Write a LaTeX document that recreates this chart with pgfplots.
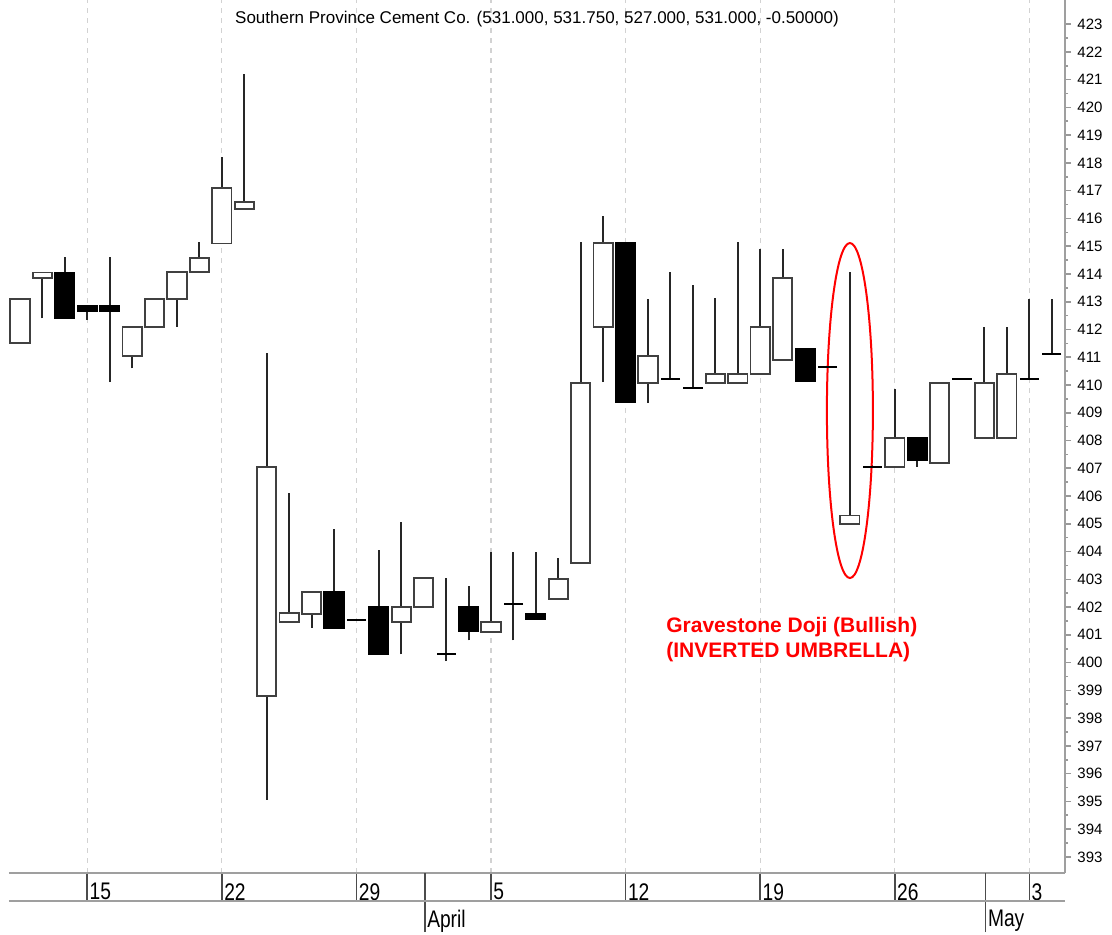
\documentclass[border=0pt]{standalone}
\usepackage{fontspec}
\setmainfont{Liberation Sans}
\newfontfamily\condfont[FakeStretch=0.8]{Liberation Sans}
\usepackage{pgfplots}
\usepackage{pgfplotstable}
\pgfplotsset{compat=1.18}

\pgfplotstableread{
i o h l c
1 411.5 413.1 411.5 413.1
2 413.85 414.05 412.4 414.05
3 414.05 414.6 412.4 412.4
4 412.85 412.85 412.35 412.65
5 412.85 414.6 410.1 412.65
6 411.05 412.1 410.6 412.1
7 412.1 413.1 412.1 413.1
8 413.1 414.07 412.1 414.07
9 414.07 415.15 414.07 414.58
10 415.1 418.2 415.1 417.1
11 416.35 421.2 416.35 416.6
12 398.8 411.15 395.05 407.05
13 401.45 406.1 401.45 401.8
14 401.75 402.55 401.25 402.55
15 402.55 404.8 401.25 401.25
16 401.55 401.55 401.55 401.55
17 402.0 404.05 400.3 400.3
18 401.45 405.07 400.3 402.0
19 402.0 403.05 402.0 403.05
20 400.3 403.05 400.05 400.3
21 402.0 402.75 400.8 401.15
22 401.1 404.0 401.1 401.45
23 402.1 404.0 400.8 402.1
24 401.75 404.0 401.55 401.55
25 402.3 403.77 402.3 403.0
26 403.6 415.15 403.6 410.07
27 412.1 416.1 410.1 415.12
28 415.12 415.12 409.4 409.4
29 410.07 413.1 409.35 411.05
30 410.2 414.07 410.2 410.2
31 409.9 413.6 409.9 409.9
32 410.07 413.15 410.07 410.4
33 410.07 415.15 410.07 410.4
34 410.4 414.9 410.4 412.1
35 410.9 414.9 410.9 413.85
36 411.3 411.3 410.15 410.15
37 410.65 410.65 410.65 410.65
38 405.0 414.07 405.0 405.3
39 407.05 407.1 407.05 407.05
40 407.05 409.85 407.05 408.1
41 408.1 408.1 407.05 407.3
42 407.2 410.07 407.2 410.07
43 410.2 410.2 410.2 410.2
44 408.1 412.1 408.1 410.07
45 408.1 412.1 408.1 410.4
46 410.2 413.1 410.2 410.2
47 411.1 413.1 411.1 411.1
}\ohlc

\begin{document}
\begin{tikzpicture}
\useasboundingbox (0,0) rectangle (556pt,467.5pt);
\begin{axis}[
  at={(4.5pt,31pt)}, anchor=south west,
  width=528pt, height=436.5pt, scale only axis,
  xmin=0.51, xmax=47.59, ymin=392.42, ymax=423.87,
  clip=false,
  axis x line*=bottom, axis y line*=right,
  axis line style={gray!75, line width=1pt},
  tick align=outside,
  major tick length=14pt,
  ytick=\empty,
  xtick={4,10,16,22,28,34,40,46},
  xticklabels={15,22,29,5,12,19,26,3},
  x tick style={black!70, line width=0.8pt},
  xticklabel style={anchor=north west, inner sep=0pt, xshift=1pt, yshift=9pt,
    font=\condfont\fontsize{12}{12}\selectfont},
  extra x ticks={19.05,44.05},
  extra x tick labels={April,May},
  extra x tick style={grid=none, major tick length=29.5pt,
    tick style={black!80, line width=0.8pt},
    xticklabel style={yshift=2pt}},
  xmajorgrids,
  major grid style={gray!35, dash pattern=on 2.5pt off 2.5pt, line width=0.6pt},
]
\addplot[draw=none, mark=none,
  error bars/.cd, y dir=plus, y explicit, error mark=none,
  error bar style={draw=black!85, solid, line width=1pt}]
  table[x=i, y=l, y error expr={\thisrow{h}-\thisrow{l}}] {\ohlc};
\draw[gray!75, line width=1pt] ([yshift=-14pt]rel axis cs:0,0) -- ([yshift=-14pt]rel axis cs:1,0);
\node[anchor=base, inner sep=0pt, font=\fontsize{8.5}{9}\selectfont]
  at ([yshift=-12pt]rel axis cs:0.5,1)
  {Southern Province Cement Co. (531.000, 531.750, 527.000, 531.000, -0.50000)};
\draw[red, line width=1pt] (axis cs:38,409.08) ellipse [x radius=11.5pt, y radius=83.75pt];
\node[anchor=base west, inner sep=0pt, text=red, font=\bfseries\fontsize{10.5}{12}\selectfont]
  at (axis cs:29.8,401.1) {Gravestone Doji (Bullish)};
\node[anchor=base west, inner sep=0pt, text=red, font=\bfseries\fontsize{10.5}{12}\selectfont]
  at (axis cs:29.8,400.2) {(INVERTED UMBRELLA)};
\end{axis}
\begin{axis}[
  at={(4.5pt,31pt)}, anchor=south west,
  width=528pt, height=436.5pt, scale only axis,
  xmin=0.51, xmax=47.59, ymin=392.42, ymax=423.87,
  axis x line=none, axis y line*=right,
  axis line style={gray!75, line width=1pt},
  xtick=\empty,
  tick align=outside,
  ytick={393,394,...,423},
  minor y tick num=1,
  y tick style={gray!80, line width=0.8pt},
  major tick length=3pt, minor tick length=1.5pt,
  yticklabel style={anchor=west, inner sep=0pt, xshift=3pt,
    font=\fontsize{7.5}{8}\selectfont},
  /pgf/number format/assume math mode=true,
  yticklabel={\pgfmathprintnumber[fixed,precision=0]{\tick}},
  ybar stacked, bar width=0.86,
]
\addplot[draw=none, fill=none] table[x=i, y expr={min(\thisrow{o},\thisrow{c})}] {\ohlc};
\addplot[fill=white, draw=black!75, line width=0.9pt] table[x=i, y expr={max(\thisrow{c}-\thisrow{o},0)}] {\ohlc};
\addplot[fill=black, draw=black, line width=0.9pt] table[x=i, y expr={max(\thisrow{o}-\thisrow{c},0)}] {\ohlc};
\end{axis}
\begin{axis}[
  at={(4.5pt,31pt)}, anchor=south west,
  width=528pt, height=436.5pt, scale only axis,
  xmin=0.51, xmax=47.59, ymin=392.42, ymax=423.87,
  hide axis,
]
\addplot[only marks, mark=-, mark size=4.8pt, mark options={black, line width=1pt},
  unbounded coords=discard]
  table[x=i, y expr={abs(\thisrow{o}-\thisrow{c})<0.001 ? \thisrow{c} : nan}] {\ohlc};
\end{axis}
\end{tikzpicture}
\end{document}
